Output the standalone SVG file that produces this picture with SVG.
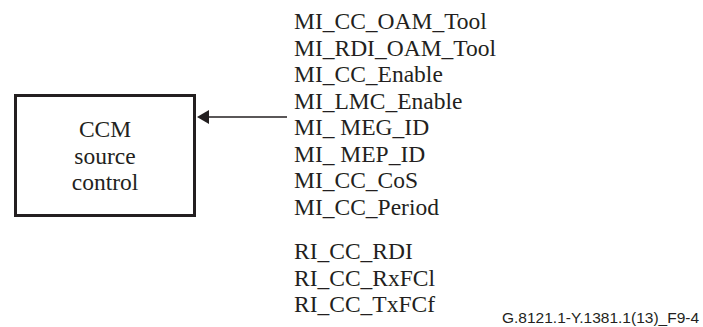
<svg xmlns="http://www.w3.org/2000/svg" width="703" height="327" viewBox="0 0 703 327">
<style>
.t{font-family:"Liberation Serif","Times New Roman",serif;font-size:23.5px;fill:#231f20}
.c{text-anchor:middle}
.f{font-family:"Liberation Sans",Arial,sans-serif;font-size:15.5px;fill:#231f20}
</style>
<rect width="703" height="327" fill="#fff"/>
<g id="ccm">
<rect x="15.5" y="95.5" width="179" height="120" fill="#fff" stroke="#231f20" stroke-width="3"/>
<text class="t c" x="105" y="137">CCM</text>
<text class="t c" x="105" y="163.5">source</text>
<text class="t c" x="105" y="190">control</text>
</g>
<g id="connectors">
<line x1="287" y1="117" x2="209" y2="117" stroke="#231f20" stroke-width="1.5"/>
<path d="M197,117 L209,110 L209,124 Z" fill="#231f20"/>
</g>
<g id="signals">
<text class="t" x="294" y="29">MI_CC_OAM_Tool</text>
<text class="t" x="294" y="55.5">MI_RDI_OAM_Tool</text>
<text class="t" x="294" y="82">MI_CC_Enable</text>
<text class="t" x="294" y="108.5">MI_LMC_Enable</text>
<text class="t" x="294" y="135">MI_ MEG_ID</text>
<text class="t" x="294" y="161.5">MI_ MEP_ID</text>
<text class="t" x="294" y="188">MI_CC_CoS</text>
<text class="t" x="294" y="214.5">MI_CC_Period</text>
<text class="t" x="294" y="259">RI_CC_RDI</text>
<text class="t" x="294" y="285.5">RI_CC_RxFCl</text>
<text class="t" x="294" y="312">RI_CC_TxFCf</text>
</g>
<text class="f" x="502" y="322.5">G.8121.1-Y.1381.1(13)_F9-4</text>
</svg>
